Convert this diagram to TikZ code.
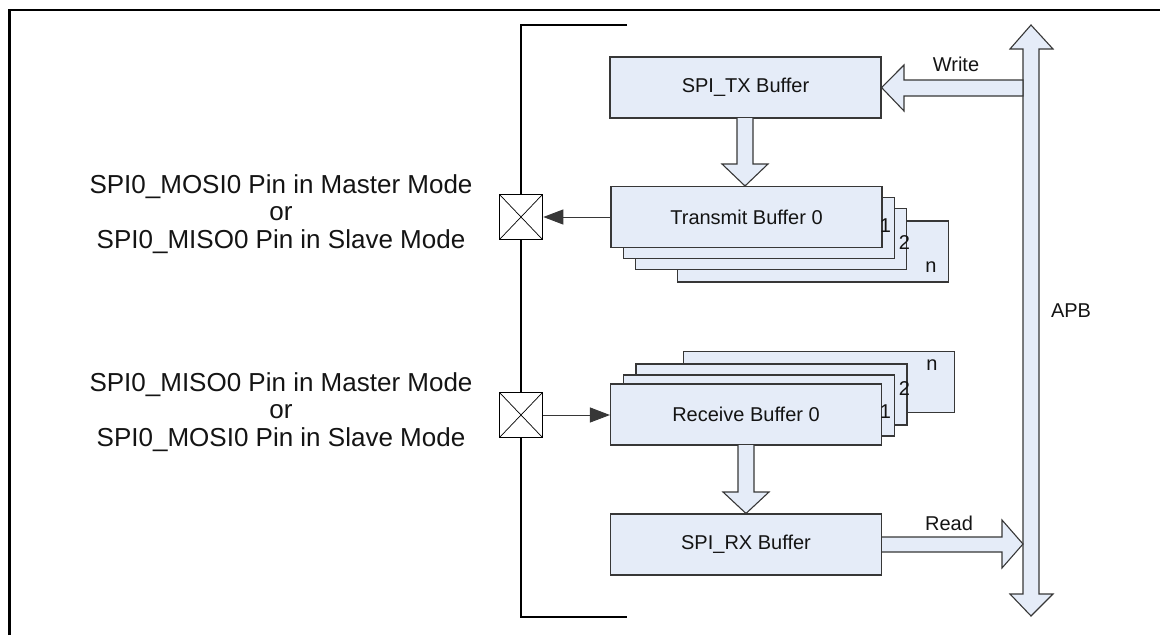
\documentclass[tikz,border=0pt]{standalone}
\usepackage{fontspec}
\setmainfont{Liberation Sans}
\usetikzlibrary{calc,arrows.meta}
\definecolor{boxfill}{RGB}{229,236,248}
\definecolor{boxline}{RGB}{55,55,55}
\definecolor{txt}{RGB}{20,20,20}
\begin{document}
\begin{tikzpicture}[x=1pt,y=-1pt,
  buf/.style={draw=boxline, fill=boxfill, line width=1.1pt, minimum width=271pt,
    minimum height=61pt, inner sep=0pt, text=txt, font=\fontsize{20}{22}\selectfont},
  lay/.style={buf},
  idx/.style={anchor=base, inner sep=0pt, text=txt, font=\fontsize{20}{22}\selectfont},
  pin/.style={draw=black, fill=white, line width=1.6pt, minimum width=43pt,
    minimum height=45pt, inner sep=0pt,
    path picture={\draw[line width=0.7pt,black] (path picture bounding box.north west) -- (path picture bounding box.south east)
      (path picture bounding box.north east) -- (path picture bounding box.south west);}},
  side/.style={align=center, anchor=north, inner sep=0pt, text=txt,
    font=\fontsize{26}{27.5}\selectfont},
  lbl/.style={anchor=base, inner sep=0pt, text=txt, font=\fontsize{20}{22}\selectfont},
  blk/.style={draw=boxline, fill=boxfill, line width=1.1pt, line join=miter},
  wire/.style={draw=boxline, line width=1pt, -{Triangle[length=20pt,width=15pt]}},
  frame/.style={line width=2.8pt, black},
  rail/.style={line width=1.8pt, black}
]
\useasboundingbox (0,0) rectangle (1160,635);

% outer frame (partial)
\draw[frame] (9.3,635) -- (9.3,10) -- (1160,10);

% bracket rail
\coordinate (rt) at (521,25);
\coordinate (rb) at (521,617);
\coordinate (rtr) at (627,25);
\coordinate (rbr) at (627,617);
\draw[rail] (rtr) -- (rt) -- (rb) -- (rbr);

% transmit stack
\node[lay] (tn) at (813,251.5) {};
\node[lay] (t2) at (771,239) {};
\node[lay] (t1) at (759,228) {};
\node[buf] (tb0) at (746.5,217) {Transmit Buffer 0};
\node[idx] (t1l) at (885.5,232) {1};
\node[idx] (t2l) at (904.5,249) {2};
\node[idx] (tnl) at (931,272) {n};

% receive stack
\node[lay] (rn) at (819,382) {};
\node[lay] (r2) at (771.5,394.5) {};
\node[lay] (r1) at (759,405.5) {};
\node[buf] (rb0) at (746,414.5) {Receive Buffer 0};
\node[idx] (r1l) at (885.5,418) {1};
\node[idx] (r2l) at (904.5,395) {2};
\node[idx] (rnl) at (932,370) {n};

% top / bottom buffers
\node[buf] (tx) at (745.5,87.5) {SPI\_TX Buffer};
\node[buf] (rx) at (746,544.5) {SPI\_RX Buffer};

% pins
\node[pin] (p1) at (521,217) {};
\node[pin] (p2) at (521,415) {};

\draw[wire] (tb0.west |- p1) -- (p1.east);
\draw[wire] (p2.east) -- (rb0.west |- p2);

% side texts
\node[side] (s1) at (281,174) {SPI0\_MOSI0 Pin in Master Mode\\or\\SPI0\_MISO0 Pin in Slave Mode};
\node[side] (s2) at (281,372) {SPI0\_MISO0 Pin in Master Mode\\or\\SPI0\_MOSI0 Pin in Slave Mode};

% APB bus double arrow
\coordinate (apbT) at (1031,25);
\coordinate (apbB) at (1031,616);
\filldraw[blk] (apbT) -- (1053,49) -- (1039,49) -- (1039,594) -- (1053,594) -- (apbB)
  -- (1010,594) -- (1023,594) -- (1023,49) -- (1010,49) -- cycle;
\node[lbl] (apb) at (1071,317) {APB};

% write arrow
\filldraw[blk] (tx.east) -- (904,65) -- (904,80) -- (1023,80) -- (1023,96) -- (904,96) -- (904,111) -- cycle;
\node[lbl] (wr) at (956,71) {Write};

% read arrow
\filldraw[blk] (rx.east |- 0,537) -- (1002,537) -- (1002,520) -- (1023,544) -- (1002,568) -- (1002,552) -- (rx.east |- 0,552);
\node[lbl] (rd) at (949,530) {Read};

% tx -> tb0 block arrow
\filldraw[blk] (737,118) -- (737,164) -- (722,164) -- (tb0.north -| 745,0) -- (768,164) -- (753,164) -- (753,118);
% rb0 -> rx block arrow
\filldraw[blk] (738,445) -- (738,492) -- (723,492) -- (rx.north -| 746,0) -- (769,492) -- (754,492) -- (754,445);
\end{tikzpicture}
\end{document}
